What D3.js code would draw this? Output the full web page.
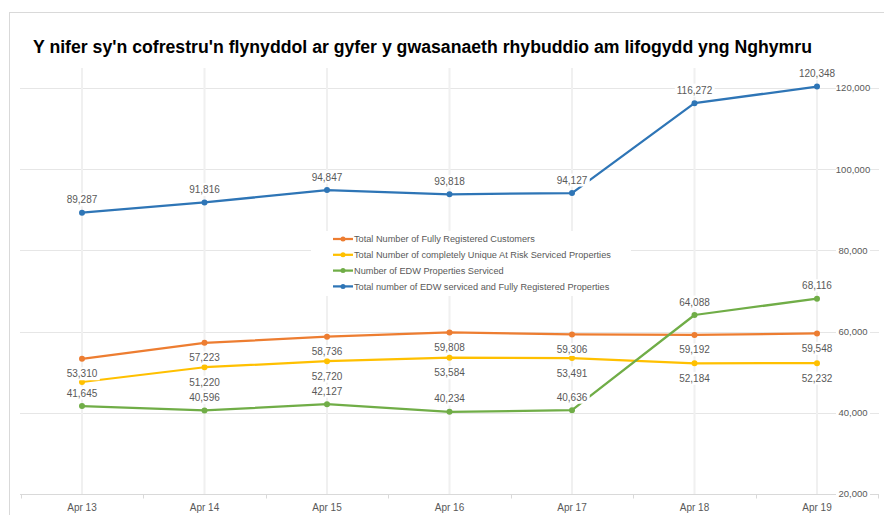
<!DOCTYPE html>
<meta charset="utf-8">
<script src="https://d3js.org/d3.v7.min.js"></script>
<style>
  body { margin: 0; background: #fff; }
  text { font-family: "Liberation Sans", Arial, sans-serif; }
</style>
<div id="my_dataviz"></div>

<script>

// data
var categories = ["Apr 13", "Apr 14", "Apr 15", "Apr 16", "Apr 17", "Apr 18", "Apr 19"];
var registeredCustomers = [53310, 57223, 58736, 59808, 59306, 59192, 59548];
var uniqueAtRisk = [47586, 51220, 52720, 53584, 53491, 52184, 52232];
var edwServiced = [41645, 40596, 42127, 40234, 40636, 64088, 68116];
var edwAndRegistered = [89287, 91816, 94847, 93818, 94127, 116272, 120348];
var yTicks = [20000, 40000, 60000, 80000, 100000, 120000];
var seriesNames = [
  "Total Number of Fully Registered Customers",
  "Total Number of completely Unique At Risk Serviced Properties",
  "Number of EDW Properties Serviced",
  "Total number of EDW serviced and Fully Registered Properties"
];
// the first yellow point has no label in the original
var hiddenLabels = ["1-0"];

var title = "Y nifer sy'n cofrestru'n flynyddol ar gyfer y gwasanaeth rhybuddio am lifogydd yng Nghymru";

var width = 884, height = 515;

var svg = d3.select("#my_dataviz")
  .append("svg")
    .attr("width", width)
    .attr("height", height);

// chart frame
svg.append("rect")
  .attr("x", 9.5).attr("y", 12.5)
  .attr("width", 900).attr("height", 520)
  .style("fill", "#fff")
  .style("stroke", "#d9d9d9");

var series = [
  {name: seriesNames[0], values: registeredCustomers, color: "#ED7D31", pos: "below"},
  {name: seriesNames[1], values: uniqueAtRisk, color: "#FFC000", pos: "below"},
  {name: seriesNames[2], values: edwServiced, color: "#70AD47", pos: "above"},
  {name: seriesNames[3], values: edwAndRegistered, color: "#2E75B6", pos: "above"}
];

// scales
var x = d3.scaleBand()
  .domain(categories)
  .range([20.75, 878.25]);
var cx = function(c) { return x(c) + x.bandwidth() / 2; };

var y = d3.scaleLinear()
  .domain([20000, 120000])
  .range([494, 88]);

// horizontal gridlines
svg.append("g")
  .selectAll("line")
  .data(yTicks.slice(1))
  .enter()
  .append("line")
    .attr("x1", 20).attr("x2", 879)
    .attr("y1", function(d) { return Math.round(y(d)) + 0.5; })
    .attr("y2", function(d) { return Math.round(y(d)) + 0.5; })
    .style("stroke", "#e6e6e6");

// vertical gridlines
svg.append("g")
  .selectAll("line")
  .data(categories)
  .enter()
  .append("line")
    .attr("x1", function(d) { return cx(d); })
    .attr("x2", function(d) { return cx(d); })
    .attr("y1", 68).attr("y2", 494)
    .style("stroke", "#f0f0f0")
    .style("stroke-width", 2);

// bottom axis
var xAxis = svg.append("g")
  .attr("transform", "translate(0," + (Math.round(y(20000)) + 0.5) + ")")
  .call(d3.axisBottom(x).tickSize(0).tickPadding(9));
xAxis.select(".domain").attr("d", "M20,0H879").style("stroke", "#d9d9d9");
xAxis.selectAll("text")
  .style("font-size", "10px")
  .style("fill", "#595959")
  .style("font-family", "Liberation Sans, Arial, sans-serif");

var boundaries = categories.map(function(c) { return x(c); }).concat([x.range()[1]]);
xAxis.selectAll(".bound")
  .data(boundaries)
  .enter()
  .append("line")
    .attr("class", "bound")
    .attr("x1", function(d) { return Math.round(d) + 0.5; })
    .attr("x2", function(d) { return Math.round(d) + 0.5; })
    .attr("y1", 0).attr("y2", 4)
    .style("stroke", "#d9d9d9");

// right axis labels sitting on the gridlines
var yLab = svg.append("g")
  .selectAll("g")
  .data(yTicks)
  .enter()
  .append("g")
    .attr("transform", function(d) { return "translate(853," + y(d) + ")"; });
yLab.append("rect")
  .attr("x", -17).attr("y", -6).attr("width", 34).attr("height", 12)
  .style("fill", "#fff");
yLab.append("text")
  .attr("text-anchor", "middle")
  .attr("dy", "0.35em")
  .style("font-size", "9.5px")
  .style("fill", "#595959")
  .text(function(d) { return d3.format(",")(d); });

// title
svg.append("text")
  .attr("x", 33).attr("y", 53)
  .attr("textLength", 779)
  .attr("lengthAdjust", "spacingAndGlyphs")
  .style("font-size", "18px")
  .style("font-weight", "bold")
  .style("fill", "#000")
  .text(title);

// legend box (white, hides gridlines)
var legend = svg.append("g").attr("transform", "translate(311,231)");
legend.append("rect")
  .attr("width", 320).attr("height", 65)
  .style("fill", "#fff");

var line = d3.line()
  .x(function(d, i) { return cx(categories[i]); })
  .y(function(d) { return y(d); });

// lines
series.forEach(function(s) {
  svg.append("path")
    .datum(s.values)
    .attr("d", line)
    .style("fill", "none")
    .style("stroke", s.color)
    .style("stroke-width", 2.25)
    .style("stroke-linejoin", "round");
});

// markers
series.forEach(function(s) {
  svg.append("g")
    .selectAll("circle")
    .data(s.values)
    .enter()
    .append("circle")
      .attr("cx", function(d, i) { return cx(categories[i]); })
      .attr("cy", function(d) { return y(d); })
      .attr("r", 3)
      .style("fill", s.color);
});

// data labels with white background
series.forEach(function(s, si) {
  s.values.forEach(function(v, i) {
    if (hiddenLabels.indexOf(si + "-" + i) >= 0) return;
    var g = svg.append("g")
      .attr("transform", "translate(" + cx(categories[i]) + "," +
        (y(v) + (s.pos === "above" ? -13 : 15)) + ")");
    var bg = g.append("rect").style("fill", "#fff");
    var t = g.append("text")
      .attr("text-anchor", "middle")
      .attr("dy", "0.35em")
      .style("font-size", "10px")
      .style("fill", "#595959")
      .text(d3.format(",")(v));
    var bb = t.node().getBBox();
    bg.attr("x", bb.x - 2).attr("y", bb.y - 1)
      .attr("width", bb.width + 4).attr("height", bb.height + 2);
  });
});

// legend entries
series.forEach(function(s, i) {
  var row = legend.append("g").attr("transform", "translate(22," + (8 + i * 15.8) + ")");
  row.append("line")
    .attr("x1", 0).attr("x2", 20)
    .style("stroke", s.color)
    .style("stroke-width", 2.25);
  row.append("circle")
    .attr("cx", 10).attr("r", 2.5)
    .style("fill", s.color);
  row.append("text")
    .attr("x", 21)
    .attr("dy", "0.35em")
    .style("font-size", "9.2px")
    .style("fill", "#595959")
    .text(s.name);
});

</script>
